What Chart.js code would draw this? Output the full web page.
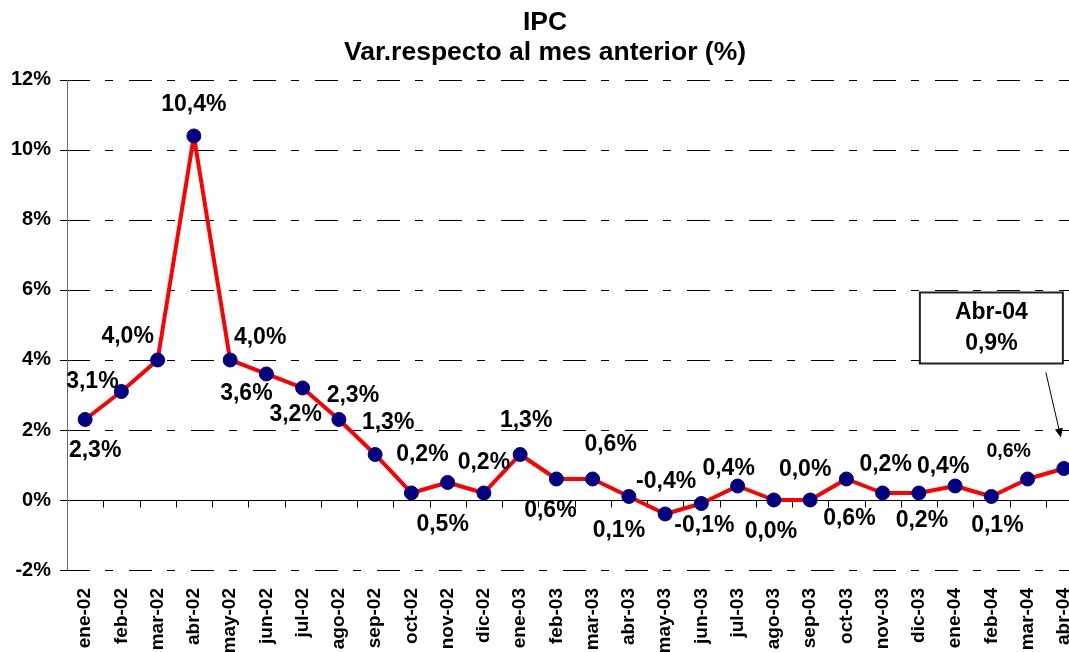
<!DOCTYPE html>
<html>
<head>
<meta charset="utf-8">
<script src="https://cdn.jsdelivr.net/npm/chart.js@4.4.1/dist/chart.umd.min.js"></script>
<style>
  html, body { margin: 0; padding: 0; background: #fff; overflow: hidden; }
  canvas { display: block; }
</style>
</head>
<body>
<canvas id="ipcChart" width="1090" height="652"></canvas>
<script>
const months = ["ene-02", "feb-02", "mar-02", "abr-02", "may-02", "jun-02", "jul-02", "ago-02", "sep-02", "oct-02", "nov-02", "dic-02",
                "ene-03", "feb-03", "mar-03", "abr-03", "may-03", "jun-03", "jul-03", "ago-03", "sep-03", "oct-03", "nov-03", "dic-03",
                "ene-04", "feb-04", "mar-04", "abr-04"];
const ipcValues = [2.3, 3.1, 4.0, 10.4, 4.0, 3.6, 3.2, 2.3, 1.3, 0.2, 0.5, 0.2,
                   1.3, 0.6, 0.6, 0.1, -0.4, -0.1, 0.4, 0.0, 0.0, 0.6, 0.2, 0.2,
                   0.4, 0.1, 0.6, 0.9];
const yTicks = [-2, 0, 2, 4, 6, 8, 10, 12];

// where each value label sits relative to its point: [dx, dy, font size]
const labelOffsets = [
  [10, 29], [-29, -12], [-30, -25], [0, -33], [30, -24], [-20, 18], [-7, 25], [14, -26], [13, -34], [11, -40], [-5, 40], [0, -32],
  [6, -36], [-6, 30], [18, -36], [-10, 32], [1, -34], [3, 20], [-9, -19], [-3, 30], [-5, -32], [3, 38], [3, -30], [3, 26],
  [-12, -21], [6, 27], [-19, -29, 19.5], null
];

const FONT = '"Liberation Sans", Arial, sans-serif';
const fmt = v => v.toFixed(1).replace('.', ',') + '%';

const excelGrid = {
  id: 'excelGrid',
  beforeDatasetsDraw(chart) {
    const { ctx, chartArea, scales: { x, y } } = chart;
    ctx.save();
    ctx.lineWidth = 1;
    ctx.strokeStyle = '#000';
    y.ticks.forEach(t => {
      const py = Math.round(y.getPixelForValue(t.value)) + 0.5;
      ctx.setLineDash([]);
      ctx.beginPath(); ctx.moveTo(chartArea.left - 7, py); ctx.lineTo(chartArea.left, py); ctx.stroke();
      ctx.setLineDash(t.value === 0 ? [] : [23, 15, 8, 16]);
      ctx.beginPath(); ctx.moveTo(chartArea.left, py); ctx.lineTo(chartArea.right, py); ctx.stroke();
    });
    // category tick marks on the zero line
    ctx.setLineDash([]);
    const y0 = Math.round(y.getPixelForValue(0)) + 0.5;
    for (let i = 0; i <= months.length; i++) {
      const px = Math.round(x.getPixelForValue(i - 0.5)) + 0.5;
      ctx.beginPath(); ctx.moveTo(px, y0); ctx.lineTo(px, y0 + 7); ctx.stroke();
    }
    // y axis line
    ctx.strokeStyle = '#666';
    const ax = Math.round(chartArea.left) + 0.5;
    ctx.beginPath(); ctx.moveTo(ax, chartArea.top); ctx.lineTo(ax, chartArea.bottom); ctx.stroke();
    ctx.restore();
  },
  afterDatasetsDraw(chart) {
    const { ctx } = chart;
    const pts = chart.getDatasetMeta(0).data;
    ctx.save();
    ctx.fillStyle = '#000';
    ctx.textAlign = 'center';
    ctx.textBaseline = 'alphabetic';
    pts.forEach((pt, i) => {
      const off = labelOffsets[i];
      if (!off) return;
      const size = off[2] || 23;
      ctx.font = 'bold ' + size + 'px ' + FONT;
      ctx.fillText(fmt(ipcValues[i]), pt.x + off[0], pt.y + off[1] + size * 0.358);
    });

    // callout for the last month
    const last = pts[pts.length - 1];
    const bx = last.x - 144, by = last.y - 176, bw = 143, bh = 71;
    ctx.fillStyle = '#fff';
    ctx.fillRect(bx, by, bw, bh);
    ctx.strokeStyle = '#222';
    ctx.lineWidth = 2;
    ctx.strokeRect(bx, by, bw, bh);
    ctx.fillStyle = '#000';
    ctx.font = 'bold 23px ' + FONT;
    const lastName = months[months.length - 1];
    ctx.fillText(lastName.charAt(0).toUpperCase() + lastName.slice(1), bx + bw / 2, last.y - 158 + 8.2);
    ctx.fillText(fmt(ipcValues[ipcValues.length - 1]), bx + bw / 2, last.y - 127 + 8.2);

    const x1 = last.x - 18, y1 = last.y - 96, x2 = last.x - 3, y2 = last.y - 31;
    const ang = Math.atan2(y2 - y1, x2 - x1);
    ctx.lineWidth = 1;
    ctx.strokeStyle = '#000';
    ctx.beginPath(); ctx.moveTo(x1, y1);
    ctx.lineTo(x2 - 8 * Math.cos(ang), y2 - 8 * Math.sin(ang)); ctx.stroke();
    ctx.beginPath();
    ctx.moveTo(x2, y2);
    ctx.lineTo(x2 - 9 * Math.cos(ang) + 4 * Math.sin(ang), y2 - 9 * Math.sin(ang) - 4 * Math.cos(ang));
    ctx.lineTo(x2 - 9 * Math.cos(ang) - 4 * Math.sin(ang), y2 - 9 * Math.sin(ang) + 4 * Math.cos(ang));
    ctx.closePath(); ctx.fill();
    ctx.restore();
  }
};

new Chart(document.getElementById('ipcChart'), {
  type: 'line',
  data: {
    labels: months,
    datasets: [{
      label: 'IPC',
      data: ipcValues,
      borderColor: '#ff0000',
      borderWidth: 4,
      borderJoinStyle: 'round',
      pointBackgroundColor: '#000080',
      pointBorderColor: '#000080',
      pointRadius: 7,
      pointBorderWidth: 1,
      tension: 0,
      fill: false
    }]
  },
  options: {
    responsive: false,
    animation: false,
    layout: { padding: 0 },
    plugins: {
      legend: { display: false },
      tooltip: { enabled: false },
      title: {
        display: true,
        text: ['IPC', 'Var.respecto al mes anterior (%)'],
        color: '#000',
        font: { family: FONT, size: 26.5, weight: 'bold', lineHeight: 1.15 },
        padding: { top: 7, bottom: 12 }
      }
    },
    scales: {
      x: {
        offset: true,
        grid: { display: false, drawTicks: false },
        border: { display: false },
        ticks: {
          autoSkip: false, maxRotation: 90, minRotation: 90, padding: 18,
          color: '#000', font: { family: FONT, size: 19, weight: 'bold' }
        },
        afterFit: s => { s.height = 82; s.paddingLeft = 0; s.paddingRight = 0; }
      },
      y: {
        min: -2, max: 12,
        grid: { display: false, drawTicks: false },
        border: { display: false },
        afterBuildTicks: s => { s.ticks = yTicks.map(v => ({ value: v })); },
        ticks: {
          padding: 16, color: '#000',
          font: { family: FONT, size: 20, weight: 'bold' },
          callback: v => v + '%'
        },
        afterFit: s => { s.width = 67; }
      }
    }
  },
  plugins: [excelGrid]
});
</script>
</body>
</html>
